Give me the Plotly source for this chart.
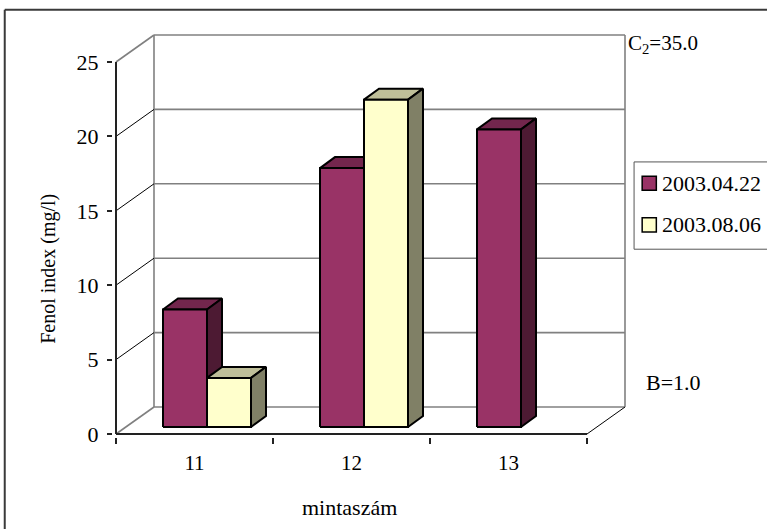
import plotly.graph_objects as go

# ---------------- data ----------------
categories = ["11", "12", "13"]
series_names = ["2003.04.22", "2003.08.06"]
values_0422 = [7.9, 17.4, 20.0]
values_0806 = [3.3, 22.0, None]
y_ticks = [0, 5, 10, 15, 20, 25]

front_colors = ["#993366", "#FFFFCC"]
top_colors = ["#73264D", "#BFBF99"]
side_colors = ["#4D1A33", "#808066"]

# ---------------- geometry (pixels) ----------------
W, H = 767, 529
PL = 116          # front y-axis pixel x
PB = 434          # front floor pixel y
UX = 157.0        # px per category
UY = 14.88        # px per value unit
DXP, DYP = 38, 27 # wall depth offset in px
n = len(categories)
YMAX = y_ticks[-1]
PR = PL + UX * n + DXP
PT = PB - UY * YMAX - DYP
PAD = 3

DX = DXP / UX
DY = DYP / UY
BX, BY = 12.5 / UX, 7.0 / UY        # bar offset from front
BDX, BDY = 15.0 / UX, 11.0 / UY     # bar depth
BW = 44.0 / UX                      # bar width

def pxx(p):  # pixel x -> paper x
    return (p - PL) / (PR - PL)

def pxy(p):  # pixel y -> paper y
    return (PB - p) / (PB - PT)

fig = go.Figure()

def add_lines(segs, color, width):
    xs, ys = [], []
    for (x0, y0, x1, y1) in segs:
        xs += [x0, x1, None]
        ys += [y0, y1, None]
    fig.add_trace(go.Scatter(x=xs, y=ys, mode="lines", line=dict(color=color, width=width),
                             hoverinfo="skip", showlegend=False))

# back wall and side wall (gray)
gray = []
for t in y_ticks:
    gray.append((DX, t + DY, n + DX, t + DY))
gray.append((DX, DY, DX, YMAX + DY))
gray.append((n + DX, DY, n + DX, YMAX + DY))
gray.append((0, 0, DX, DY))
gray.append((0, YMAX, DX, YMAX + DY))
add_lines(gray, "#808080", 1.6)

# black diagonals on side wall and floor edge
blk = [(0, t, DX, t + DY) for t in y_ticks[1:-1]]
blk.append((n, 0, n + DX, DY))
add_lines(blk, "#000000", 1)

# front axes
add_lines([(0, 0, 0, YMAX), (0, 0, n, 0)], "#222222", 2)

# ---------------- bars ----------------
series = [values_0422, values_0806]
for i in range(n):
    for s, vals in enumerate(series):
        v = vals[i]
        if v is None:
            continue
        x0 = i + 0.5 + BX - BW + s * BW
        x1 = x0 + BW
        y0 = BY
        y1 = BY + v
        faces = [
            ([x0, x1, x1 + BDX, x0 + BDX, x0], [y1, y1, y1 + BDY, y1 + BDY, y1], top_colors[s]),
            ([x1, x1 + BDX, x1 + BDX, x1, x1], [y0, y0 + BDY, y1 + BDY, y1, y0], side_colors[s]),
            ([x0, x1, x1, x0, x0], [y0, y0, y1, y1, y0], front_colors[s]),
        ]
        for fx, fy, col in faces:
            fig.add_trace(go.Scatter(x=fx, y=fy, mode="lines", fill="toself", fillcolor=col,
                                     line=dict(color="#000000", width=2),
                                     hoverinfo="skip", showlegend=False, name=series_names[s]))

FONT = "Liberation Serif"

fig.update_layout(
    width=W, height=H,
    paper_bgcolor="white", plot_bgcolor="white",
    margin=dict(l=PL - PAD, r=W - PR - PAD, t=PT - PAD, b=H - PB - PAD, autoexpand=False),
    font=dict(family=FONT, size=20, color="black"),
    showlegend=False,
    xaxis=dict(range=[-PAD / UX, n + DX + PAD / UX], showgrid=False, zeroline=False, showline=False,
               tickmode="array", tickvals=[i + 0.5 for i in range(n)], ticktext=categories,
               ticks="", ticklabelstandoff=11, tickfont=dict(size=21, family=FONT),
               minor=dict(tickmode="array", tickvals=list(range(n + 1)), ticks="outside",
                          ticklen=6, tickwidth=1.5, tickcolor="#222222", showgrid=False),
               fixedrange=True),
    yaxis=dict(range=[-PAD / UY, YMAX + DY + PAD / UY], showgrid=False, zeroline=False, showline=False,
               tickmode="array", tickvals=y_ticks, ticktext=[str(t) for t in y_ticks],
               ticks="outside", ticklen=5, tickwidth=1.5, tickcolor="#222222",
               ticklabelstandoff=4, tickfont=dict(size=22, family=FONT), fixedrange=True),
)

# outer frame (left and top edges visible)
fig.add_shape(type="line", xref="paper", yref="paper", x0=pxx(9), x1=pxx(W + 5), y0=pxy(13), y1=pxy(13),
              line=dict(color="#3a3a3a", width=2))
fig.add_shape(type="line", xref="paper", yref="paper", x0=pxx(9), x1=pxx(9), y0=pxy(13), y1=pxy(H + 5),
              line=dict(color="#3a3a3a", width=2))

# legend (manual)
fig.add_shape(type="rect", xref="paper", yref="paper", x0=pxx(631), x1=pxx(766), y0=pxy(249), y1=pxy(163),
              line=dict(color="#555555", width=1), fillcolor="white")
for k, name in enumerate(series_names):
    cy = 184 + k * 41
    fig.add_shape(type="rect", xref="paper", yref="paper", x0=pxx(639), x1=pxx(653),
                  y0=pxy(cy + 7), y1=pxy(cy - 7), line=dict(color="black", width=1.5),
                  fillcolor=front_colors[k])
    fig.add_annotation(x=pxx(657), y=pxy(cy), xref="paper", yref="paper", text=name, showarrow=False,
                       xanchor="left", yanchor="middle", font=dict(size=22, family=FONT))

# texts
fig.add_annotation(x=pxx(623), y=pxy(47), xref="paper", yref="paper", text="C<sub>2</sub>=35.0",
                   showarrow=False, xanchor="left", yanchor="middle", font=dict(size=21, family=FONT))
fig.add_annotation(x=pxx(641), y=pxy(380), xref="paper", yref="paper", text="B=1.0",
                   showarrow=False, xanchor="left", yanchor="middle", font=dict(size=22, family=FONT))
fig.add_annotation(x=pxx(350), y=pxy(503), xref="paper", yref="paper", text="mintaszám",
                   showarrow=False, xanchor="center", yanchor="middle", font=dict(size=22, family=FONT))
fig.add_annotation(x=pxx(52), y=pxy(268), xref="paper", yref="paper", text="Fenol index (mg/l)",
                   textangle=-90, showarrow=False, xanchor="center", yanchor="middle",
                   font=dict(size=20, family=FONT))

fig.write_html("out.html")
